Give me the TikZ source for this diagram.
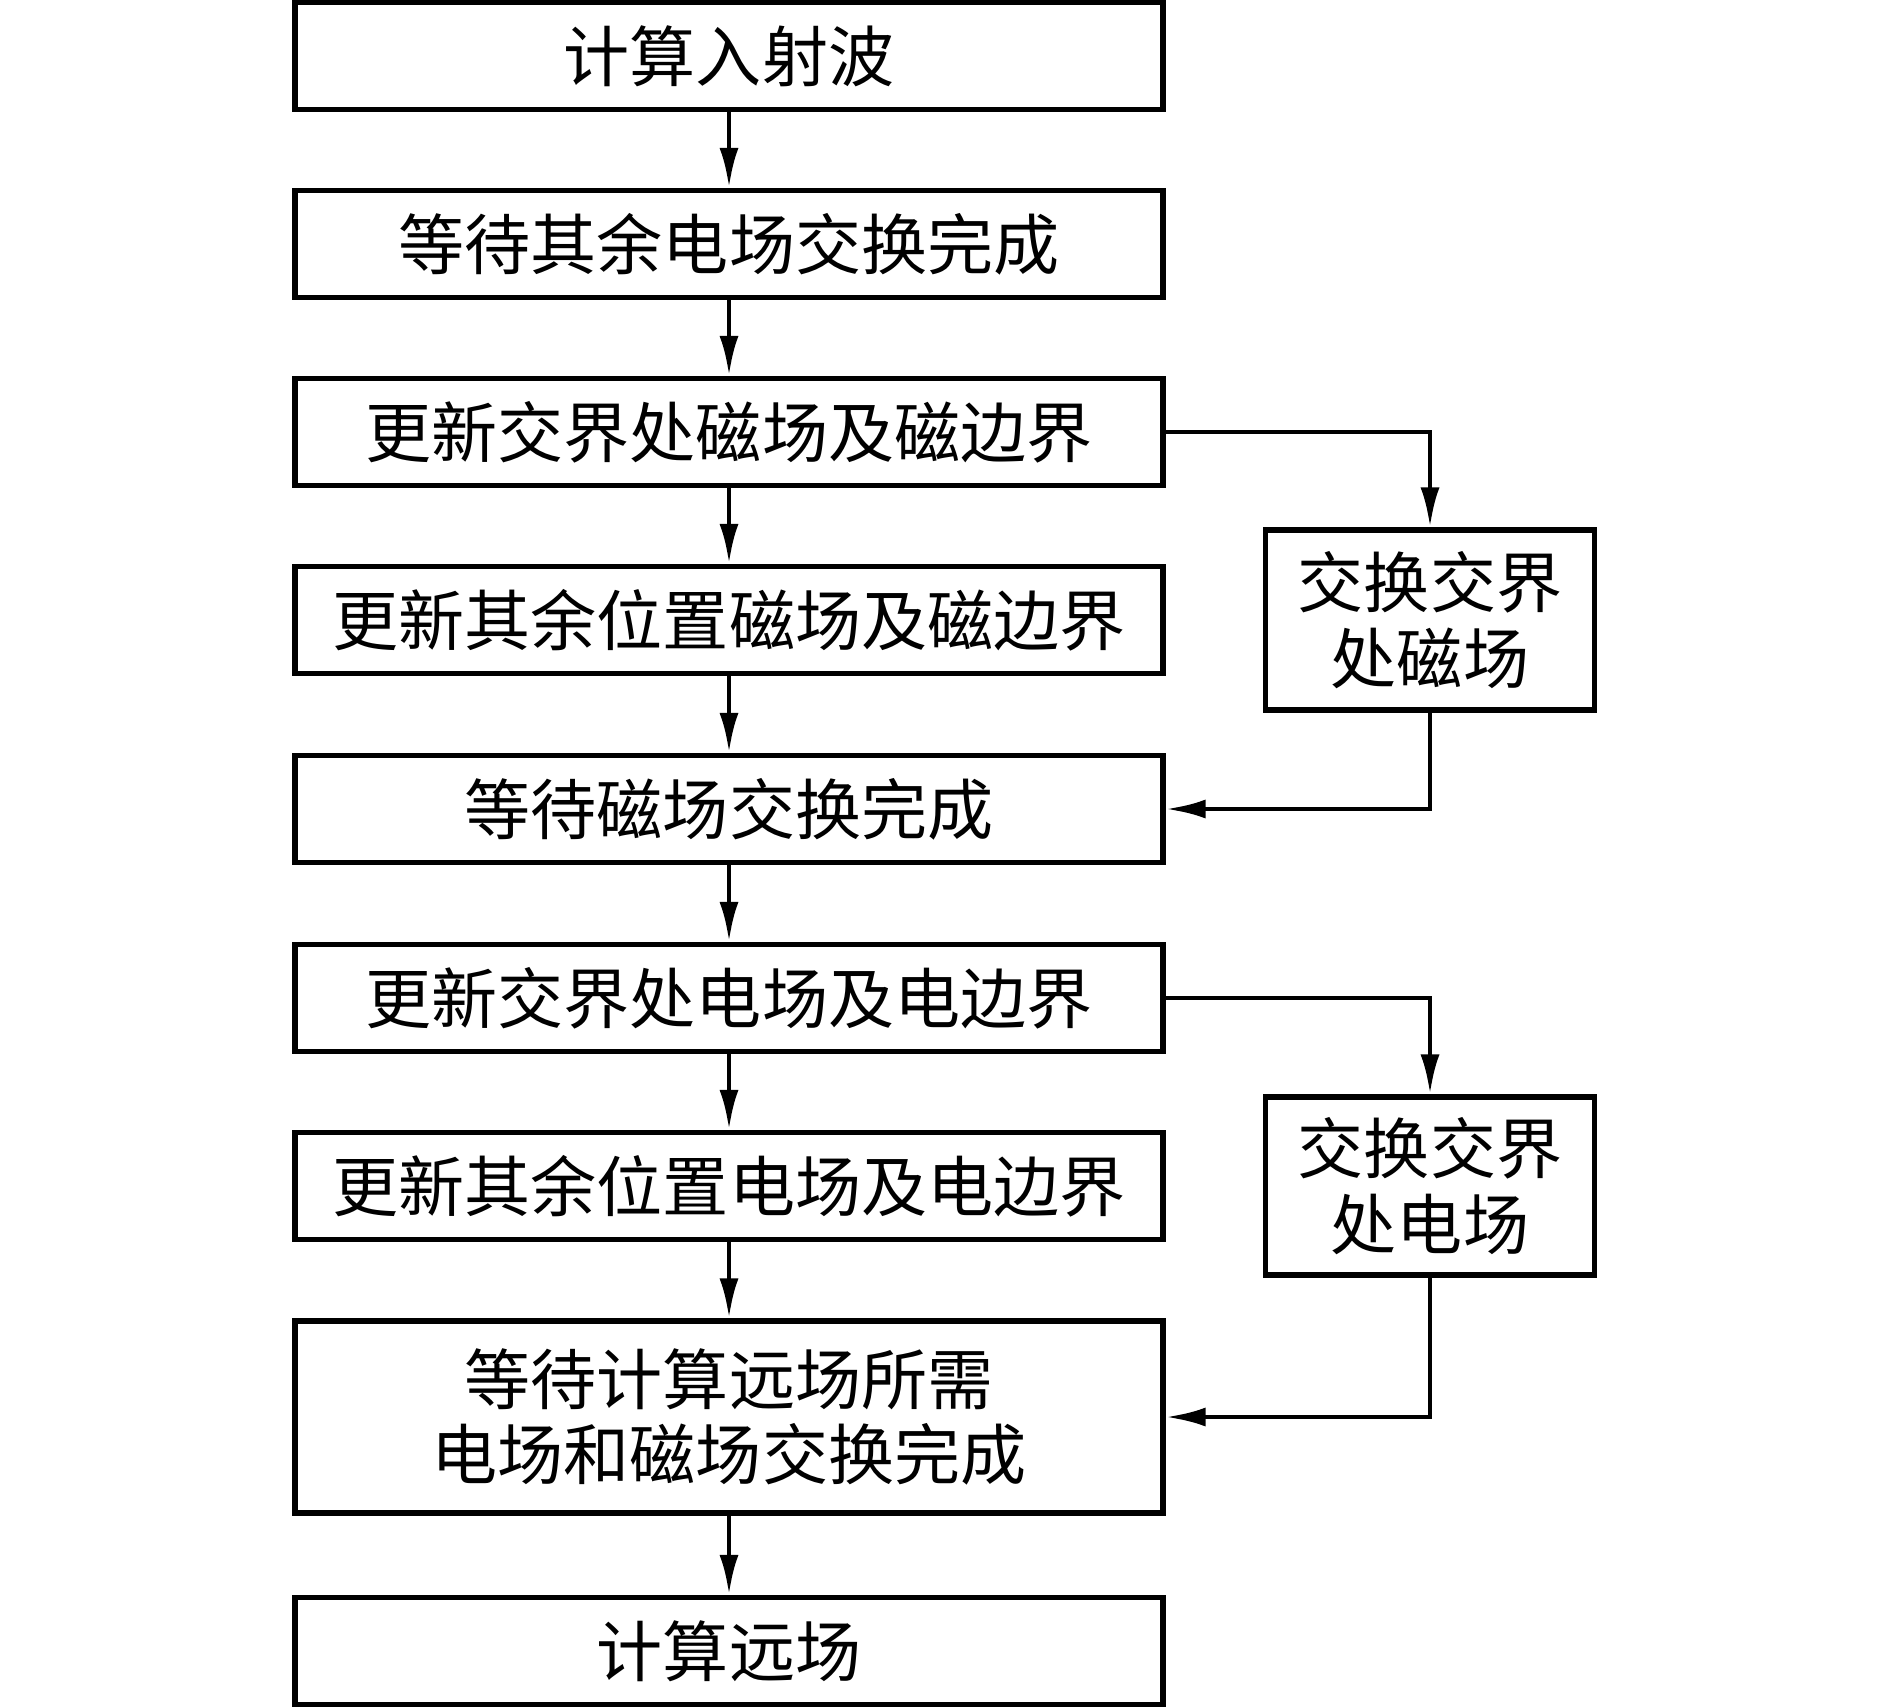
\documentclass[tikz,border=0pt]{standalone}
\usepackage{fontspec}
\newfontfamily\cjk{Noto Sans CJK SC}
\usetikzlibrary{arrows.meta,positioning}
\begin{document}
\begin{tikzpicture}[x=1cm,y=1cm,
  every node/.style={font=\cjk\fontsize{18.8pt}{21.5pt}\selectfont},
  mainbox/.style={draw,line width=1.5pt,minimum width=8.68cm,minimum height=1.07cm,inner sep=0pt,align=center},
  sidebox/.style={draw,line width=1.5pt,minimum width=3.29cm,minimum height=1.8cm,inner sep=0pt,align=center},
  arr/.style={line width=1.4pt,-{Latex[length=4mm,width=1.9mm]}}]
\useasboundingbox (0,0) rectangle (18.89,-17.07);
\node[mainbox] (b1) at (7.29,-0.56) {计算入射波};
\node[mainbox] (b2) at (7.29,-2.44) {等待其余电场交换完成};
\node[mainbox] (b3) at (7.29,-4.32) {更新交界处磁场及磁边界};
\node[mainbox] (b4) at (7.29,-6.20) {更新其余位置磁场及磁边界};
\node[mainbox] (b5) at (7.29,-8.09) {等待磁场交换完成};
\node[mainbox] (b6) at (7.29,-9.98) {更新交界处电场及电边界};
\node[mainbox] (b7) at (7.29,-11.86) {更新其余位置电场及电边界};
\node[mainbox,minimum height=1.92cm] (b8) at (7.29,-14.17) {等待计算远场所需\\电场和磁场交换完成};
\node[mainbox] (b9) at (7.29,-16.51) {计算远场};
\node[sidebox] (s1) at (14.30,-6.20) {交换交界\\处磁场};
\node[sidebox,minimum height=1.78cm] (s2) at (14.30,-11.86) {交换交界\\处电场};
\draw[arr] (b1) -- (b2);
\draw[arr] (b2) -- (b3);
\draw[arr] (b3) -- (b4);
\draw[arr] (b4) -- (b5);
\draw[arr] (b5) -- (b6);
\draw[arr] (b6) -- (b7);
\draw[arr] (b7) -- (b8);
\draw[arr] (b8) -- (b9);
\draw[arr] (b3.east) -| (s1.north);
\draw[arr] (s1.south) |- (b5.east);
\draw[arr] (b6.east) -| (s2.north);
\draw[arr] (s2.south) |- (b8.east);
\end{tikzpicture}
\end{document}
